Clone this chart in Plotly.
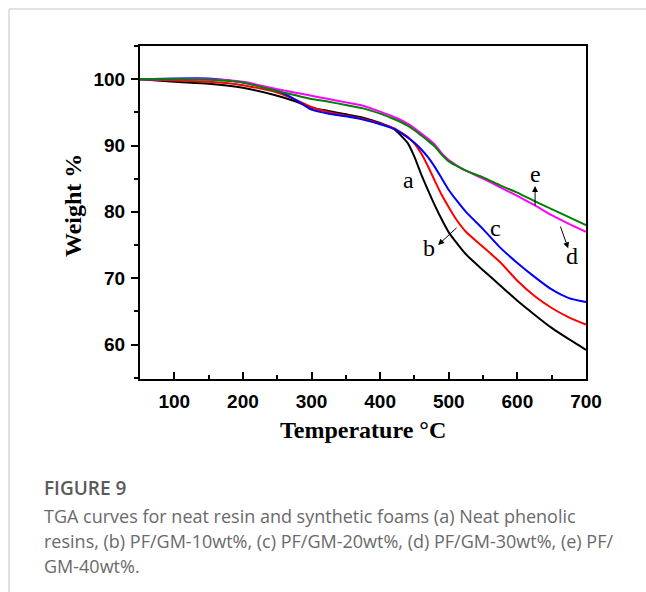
import plotly.graph_objects as go

temperature = [50, 100, 150, 200, 250, 275, 300, 325, 350, 375, 400, 420, 440, 450,
               460, 470, 480, 490, 500, 510, 525, 550, 575, 600, 625, 650, 675, 700]

weight_a = [100.0, 99.6, 99.3, 98.7, 97.5, 96.7, 95.7, 95.2, 94.7, 94.2, 93.4, 92.5, 90.4, 88.3,
            85.6, 83.2, 80.9, 78.8, 76.9, 75.5, 73.6, 71.2, 68.9, 66.6, 64.5, 62.5, 60.8, 59.2]
weight_b = [100.0, 99.8, 99.6, 99.1, 98.0, 97.0, 95.8, 95.0, 94.5, 94.0, 93.3, 92.6, 91.3, 90.3,
            88.8, 86.8, 84.6, 82.5, 80.7, 79.0, 77.0, 74.7, 72.4, 69.6, 67.3, 65.5, 64.1, 63.0]
weight_c = [100.0, 100.1, 100.1, 99.5, 98.3, 97.0, 95.4, 94.8, 94.4, 93.9, 93.2, 92.5, 91.2, 90.4,
            89.4, 88.2, 86.7, 85.0, 83.3, 81.9, 80.0, 77.4, 74.6, 72.3, 70.2, 68.3, 67.0, 66.4]
weight_d = [100.0, 100.0, 100.0, 99.6, 98.5, 98.0, 97.5, 97.0, 96.5, 96.0, 95.1, 94.3, 93.3, 92.6,
            91.8, 91.0, 90.1, 88.8, 87.8, 87.1, 86.2, 85.0, 83.7, 82.4, 81.0, 79.5, 78.2, 77.0]
weight_e = [100.0, 100.0, 99.9, 99.5, 98.2, 97.6, 97.0, 96.6, 96.1, 95.6, 94.8, 94.0, 93.0, 92.3,
            91.5, 90.7, 89.8, 88.6, 87.6, 87.0, 86.2, 85.2, 84.0, 82.9, 81.6, 80.4, 79.2, 78.0]

series_names = ["a", "b", "c", "d", "e"]
series_values = [weight_a, weight_b, weight_c, weight_d, weight_e]
series_colors = ["#000000", "#ff0000", "#0000ff", "#ff00ff", "#008000"]

x_ticks = [100, 200, 300, 400, 500, 600, 700]
y_ticks = [60, 70, 80, 90, 100]

# curve labels: (text, x, y)
labels = [("a", 440.7, 84.8), ("b", 471, 74.5), ("c", 568.5, 77.6),
          ("d", 679.7, 73.3), ("e", 625.8, 85.7)]
# arrows: (tail_x, tail_y, head_x, head_y)
arrows = [(513.6, 77.8, 484.4, 75.0), (662, 78.0, 674, 74.5), (625.8, 80.7, 625.8, 83.9)]

caption_title = "FIGURE 9"
caption_lines = [
    "TGA curves for neat resin and synthetic foams (a) Neat phenolic",
    "resins, (b) PF/GM-10wt%, (c) PF/GM-20wt%, (d) PF/GM-30wt%, (e) PF/",
    "GM-40wt%.",
]

fig = go.Figure()
for name, vals, col in zip(series_names, series_values, series_colors):
    fig.add_trace(go.Scatter(x=temperature, y=vals, mode="lines", name=name,
                             line=dict(color=col, width=2, shape="spline", smoothing=0.5),
                             showlegend=False))

W, H = 646, 592
L, R, T, B = 140, 586, 46, 379
pw, ph = R - L, B - T

def px(xp):
    return (xp - L) / pw

def py(yp):
    return (B - yp) / ph

tick_font = dict(family="Liberation Sans, Arial", size=19, color="black", weight="bold")

fig.update_layout(
    width=W, height=H,
    margin=dict(l=L, r=W - R, t=T, b=H - B, pad=0),
    paper_bgcolor="white", plot_bgcolor="white",
    xaxis=dict(range=[50, 700], tickvals=x_ticks, ticks="inside", ticklen=7, tickwidth=2,
               tickcolor="black", showline=True, linecolor="black", linewidth=2, mirror=True,
               showgrid=False, zeroline=False, tickfont=tick_font, ticklabelstandoff=4,
               minor=dict(dtick=50, tick0=50, ticks="inside", ticklen=4, tickwidth=2,
                          tickcolor="black", showgrid=False)),
    yaxis=dict(range=[54.8, 105], tickvals=y_ticks, ticks="outside", ticklen=7, tickwidth=2,
               tickcolor="black", showline=True, linecolor="black", linewidth=2, mirror=True,
               showgrid=False, zeroline=False, tickfont=tick_font, ticklabelstandoff=2,
               minor=dict(dtick=5, tick0=55, ticks="outside", ticklen=4, tickwidth=2,
                          tickcolor="black", showgrid=False)),
)

annotations = []
serif = dict(family="Liberation Serif, Times New Roman", size=24, color="black")
for txt, x, y in labels:
    annotations.append(dict(x=x, y=y, xref="x", yref="y", text=txt, showarrow=False,
                            font=serif, xanchor="center", yanchor="middle"))
for tx, ty, hx, hy in arrows:
    annotations.append(dict(x=hx, y=hy, ax=tx, ay=ty, xref="x", yref="y", axref="x", ayref="y",
                            text="", showarrow=True, arrowhead=2, arrowsize=1.2, arrowwidth=1,
                            arrowcolor="black"))

annotations.append(dict(x=0.5, y=py(430), xref="paper", yref="paper", text="<b>Temperature °C</b>",
                        showarrow=False, xanchor="center", yanchor="middle", font=serif))
annotations.append(dict(x=px(73), y=py(206), xref="paper", yref="paper", text="<b>Weight %</b>",
                        showarrow=False, xanchor="center", yanchor="middle", textangle=-90, font=serif))

annotations.append(dict(x=px(42), y=py(488), xref="paper", yref="paper", text=caption_title,
                        showarrow=False, xanchor="left", yanchor="middle",
                        font=dict(family="Open Sans", size=19, color="#5a5a5a", weight=600)))
for i, line in enumerate(caption_lines):
    annotations.append(dict(x=px(42), y=py(516 + 25 * i), xref="paper", yref="paper", text=line,
                            showarrow=False, xanchor="left", yanchor="middle",
                            font=dict(family="Open Sans", size=18, color="#6a6a6a")))
fig.update_layout(annotations=annotations)

# card border (light gray) around figure and caption
fig.add_shape(type="line", xref="paper", yref="paper", x0=px(9), x1=px(9), y0=py(592), y1=py(9),
              line=dict(color="#d9d9d9", width=1.5))
fig.add_shape(type="line", xref="paper", yref="paper", x0=px(9), x1=px(646), y0=py(9), y1=py(9),
              line=dict(color="#d9d9d9", width=1.5))

fig.write_html("out.html")
